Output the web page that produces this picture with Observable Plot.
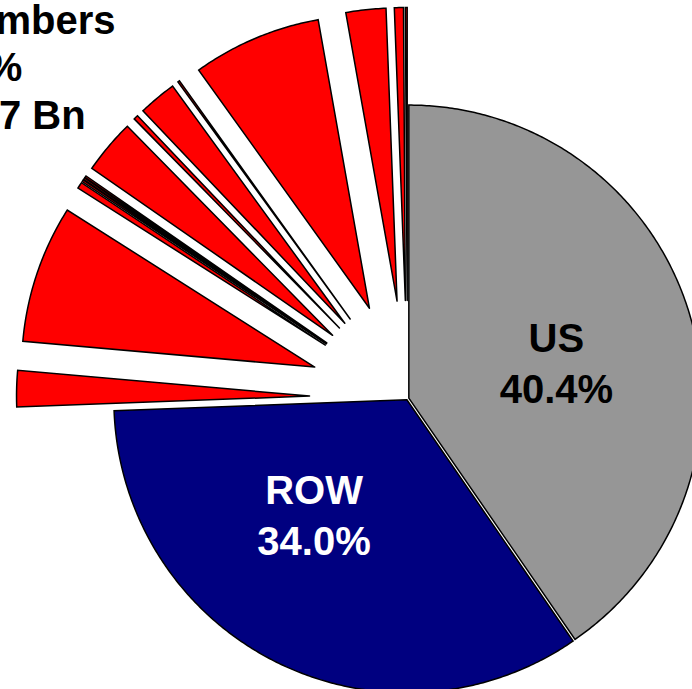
<!DOCTYPE html>
<html>
<head>
<meta charset="utf-8">
<script src="https://cdn.jsdelivr.net/npm/d3@7"></script>
<script src="https://cdn.jsdelivr.net/npm/@observablehq/plot@0.6"></script>
<style>
  html, body { margin: 0; padding: 0; background: #ffffff; }
  #chart { width: 692px; height: 689px; overflow: hidden; }
</style>
</head>
<body>
<div id="chart"></div>
<script>
// ---- data ----
const groups = ["US", "ROW", "EU"];
const groupShares = [40.4, 34.0, 25.6];           // percent
const groupLabels = ["US", "ROW", "EU-25 Members"];
const euTotalLabel = "$11,862.7 Bn";              // only "…7 Bn" is visible
const euMembers = ["EU member 1", "EU member 2", "EU member 3", "EU member 4", "EU member 5",
  "EU member 6", "EU member 7", "EU member 8", "EU member 9", "EU member 10",
  "EU member 11", "EU member 12", "EU member 13", "EU member 14"];
const euShares = [2.0, 7.6, 0.35, 0.1, 0.1, 0.1, 3.0, 0.25, 2.1, 0.1, 7.1, 2.2, 0.5, 0.1];

// ---- layout / style ----
const W = 692, H = 689;
const CX = 407, CY = 398, RPX = 293;               // pie centre and radius in pixels
const explodeEU = 98 / RPX, explodeMain = 1.4 / RPX;
const colors = {US: "#969696", ROW: "#000080", EU: "#ff0000"};
const labelLayout = {
  US: {r: 0.532, shift: 0, color: "black"},
  ROW: {r: 0.48, shift: 15, color: "white"}
};

// ---- slices ----
const slices = [
  {id: "US", group: "US", share: groupShares[0]},
  {id: "ROW", group: "ROW", share: groupShares[1]},
  ...euMembers.map((m, i) => ({id: m, group: "EU", share: euShares[i]}))
];
const total = d3.sum(slices, d => d.share);
let acc = 0;
for (const s of slices) {
  s.a0 = acc / total * 360;
  acc += s.share;
  s.a1 = acc / total * 360;
  s.mid = (s.a0 + s.a1) / 2;
}
const rad = a => a * Math.PI / 180;
const polys = [];
for (const s of slices) {
  const off = s.group === "EU" ? explodeEU : explodeMain;
  const ox = off * Math.sin(rad(s.mid)), oy = off * Math.cos(rad(s.mid));
  polys.push({id: s.id, group: s.group, x: ox, y: oy});
  const n = Math.max(2, Math.ceil((s.a1 - s.a0) / 0.5));
  for (let k = 0; k <= n; k++) {
    const a = rad(s.a0 + (s.a1 - s.a0) * k / n);
    polys.push({id: s.id, group: s.group, x: ox + Math.sin(a), y: oy + Math.cos(a)});
  }
  polys.push({id: s.id, group: s.group, x: ox, y: oy});
}

const mainLabels = slices.filter(s => s.group !== "EU").map((s, i) => {
  const L = labelLayout[s.group];
  const a = rad(s.mid + L.shift);
  return {
    name: groupLabels[groups.indexOf(s.group)],
    pct: s.share.toFixed(1) + "%",
    x: L.r * Math.sin(a), y: L.r * Math.cos(a), color: L.color
  };
});
const euLabel = [groupLabels[2], groupShares[2].toFixed(1) + "%", euTotalLabel].join("\n");

const sliceMark = g => Plot.line(polys.filter(d => d.group === g), {
  x: "x", y: "y", z: "id", fill: colors[g], stroke: "black", strokeWidth: 1.5,
  strokeLinejoin: "miter", strokeMiterlimit: 4, curve: "linear"
});

const chart = Plot.plot({
  width: W, height: H, margin: 0,
  x: {domain: [-CX / RPX, (W - CX) / RPX], axis: null},
  y: {domain: [-(H - CY) / RPX, CY / RPX], axis: null},
  color: {type: "identity"},
  style: {fontFamily: "'Liberation Sans', Arial, Helvetica, sans-serif", background: "white", overflow: "hidden"},
  marks: [
    sliceMark("EU"),
    sliceMark("US"),
    sliceMark("ROW"),
    Plot.text(mainLabels, {x: "x", y: "y", text: "name", fill: "color", fontSize: 40, fontWeight: "bold",
      textAnchor: "middle", lineAnchor: "bottom", ariaLabel: "name"}),
    Plot.text(mainLabels, {x: "x", y: "y", text: "pct", fill: "color", fontSize: 40, fontWeight: "bold",
      textAnchor: "middle", lineAnchor: "bottom", dy: 51, ariaLabel: "pct"}),
    Plot.text([euLabel], {text: d => d, frameAnchor: "top-left", dx: -35, dy: 128, textAnchor: "middle",
      lineAnchor: "bottom", lineHeight: 1.1875, fontSize: 40, fontWeight: "bold", fill: "black"})
  ]
});
d3.select(chart).selectAll('g[aria-label="pct"] text').style("letter-spacing", "-3px");
document.getElementById("chart").appendChild(chart);
</script>
</body>
</html>
